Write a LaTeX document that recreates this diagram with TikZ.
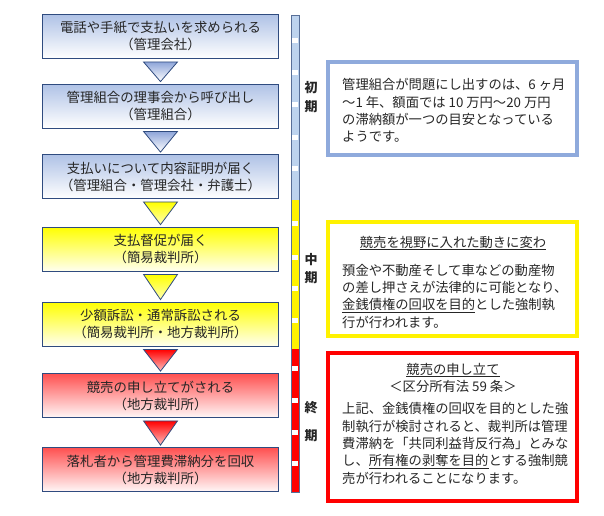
\documentclass[tikz,border=0pt]{standalone}
\usepackage{fontspec}
\setmainfont{Noto Sans CJK JP}
\usetikzlibrary{calc}
\definecolor{navy}{HTML}{2F4B7F}
\definecolor{bluetop}{HTML}{AFC2E6}
\definecolor{tribluetop}{HTML}{8EA5D9}
\definecolor{boxblue}{HTML}{8FAADC}
\definecolor{barblue}{HTML}{BDD3EE}
\definecolor{redtop}{HTML}{FF5050}
\definecolor{txt}{HTML}{262626}
\tikzset{
  lbox/.style={draw=navy, line width=0.8pt, minimum width=236pt, minimum height=44pt,
    inner sep=0pt, align=center, font=\fontsize{13.4}{17}\selectfont, text=txt},
  blueb/.style={lbox, top color=bluetop, bottom color=white},
  yelb/.style={lbox, top color=yellow, bottom color=yellow!6},
  redb/.style={lbox, top color=redtop, bottom color=red!3},
  tri/.style={draw=navy, line width=0.8pt, line join=miter},
  period/.style={font=\fontsize{13}{13}\selectfont\bfseries, text=txt, inner sep=0pt},
  rbox/.style={line width=4pt, minimum width=249pt, inner sep=0pt},
  rtext/.style={font=\fontsize{13.3}{17.3}\selectfont, text=txt, inner sep=0pt},
}
\newcommand{\mytri}[4]{%
  \shade[tri, top color=#3, bottom color=#4] ($(#1.south)+(-17,3)$) -- ($(#1.south)+(17,3)$) -- ($(#2.north)+(0,-2)$) -- cycle;}
\begin{document}
\begin{tikzpicture}[x=1pt,y=-1pt]
\useasboundingbox (0,0) rectangle (604,515);
% left column
\node[blueb] (b1) at (160.5,36.5) {電話や手紙で支払いを求められる\\（管理会社）};
\node[blueb] (b2) at (160.5,106) {管理組合の理事会から呼び出し\\（管理組合）};
\node[blueb] (b3) at (160.5,176.5) {支払いについて内容証明が届く\\（管理組合・管理会社・弁護士）};
\node[yelb] (b4) at (160.5,249) {支払督促が届く\\（簡易裁判所）};
\node[yelb] (b5) at (160.5,324) {少額訴訟・通常訴訟される\\（簡易裁判所・地方裁判所）};
\node[redb] (b6) at (160.5,395.5) {競売の申し立てがされる\\（地方裁判所）};
\node[redb] (b7) at (160.5,469.5) {落札者から管理費滞納分を回収\\（地方裁判所）};
\mytri{b1}{b2}{tribluetop}{white}
\mytri{b2}{b3}{tribluetop}{white}
\mytri{b3}{b4}{yellow}{yellow!30}
\mytri{b4}{b5}{yellow}{yellow!30}
\mytri{b5}{b6}{red}{red!25}
\mytri{b6}{b7}{red}{red!25}
% vertical bar
\fill[barblue] (291,15) rectangle (299,200);
\fill[yellow] (291,200) rectangle (299,349);
\fill[red] (291,349) rectangle (299,492);
\foreach \y in {40,72,104,137,168,223,257,288,320,368,400,432,463}
  \fill[white] (291.8,\y-2.5) rectangle (298.2,\y+2.5);
\draw[navy!80, line width=0.8pt] (291,15) rectangle (299,492);
% period labels
\node[period] (p1) at (311,88) {初};
\node[period] (p2) at (311,107) {期};
\node[period] (p3) at (311,260) {中};
\node[period] (p4) at (311,278) {期};
\node[period] (p5) at (311,408) {終};
\node[period] (p6) at (311,436) {期};
% right boxes
\node[rbox, draw=boxblue, minimum height=93pt] (ra) at (452.5,108.5) {};
\node[rbox, draw=yellow, minimum height=114pt] (rb) at (452.5,279) {};
\node[rbox, draw=red, minimum height=148pt] (rc) at (452.5,427) {};
\node[rtext, align=left, anchor=west] (ta) at (342,110.5)
  {管理組合が問題にし出すのは、6 ヶ月\\～1 年、額面では 10 万円～20 万円\\の滞納額が一つの目安となっている\\ようです。};
\node[rtext] (tbh) at (453,243) {\underline{競売を視野に入れた動きに変わ}};
\node[rtext, align=left, anchor=west] (tb) at (342,296)
  {預金や不動産そして車などの動産物\\の差し押さえが法律的に可能となり、\\\underline{金銭債権の回収を目的}とした強制執\\行が行われます。};
\node[rtext] (tch1) at (453,370) {\underline{競売の申し立て}};
\node[rtext] (tch2) at (453,386) {＜区分所有法 59 条＞};
\node[rtext, align=left, anchor=west] (tc) at (342,443.5)
  {上記、金銭債権の回収を目的とした強\\制執行が検討されると、裁判所は管理\\費滞納を「共同利益背反行為」とみな\\し、\underline{所有権の剥奪を目的}とする強制競\\売が行われることになります。};
\end{tikzpicture}
\end{document}
